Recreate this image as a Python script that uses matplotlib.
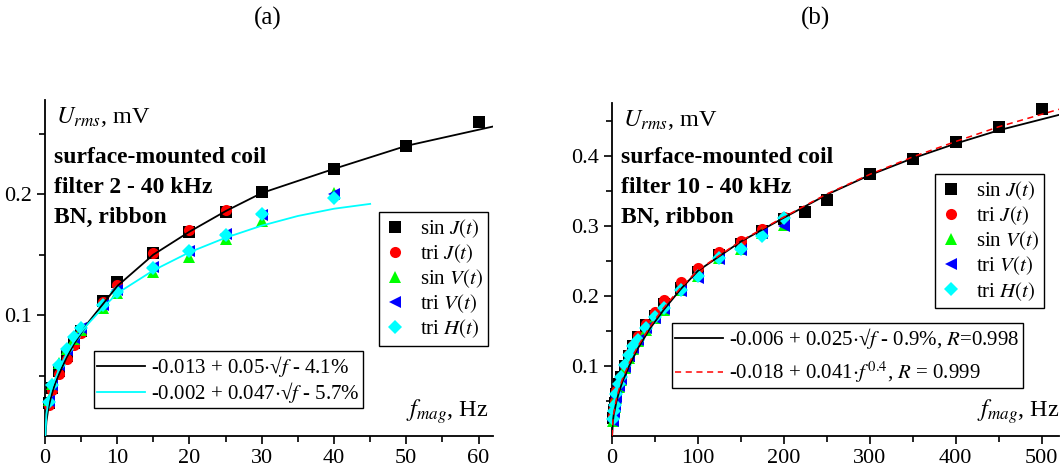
import matplotlib.pyplot as plt

plt.rcParams['font.family'] = ['Liberation Serif', 'DejaVu Serif']
plt.rcParams['mathtext.fontset'] = 'stix'

# ---- painel (a): filtro 2 - 40 kHz ----
fa_sinJ = [0.5, 1, 2, 3, 4, 5, 8, 10, 15, 20, 25, 30, 40, 50, 60]
ua_sinJ = [0.027, 0.040, 0.054, 0.066, 0.077, 0.087, 0.112, 0.127, 0.151, 0.169, 0.185, 0.202, 0.221, 0.240, 0.260]
fa_triJ = [0.5, 1, 2, 3, 4, 5, 8, 10, 15, 20, 25]
ua_triJ = [0.026, 0.038, 0.051, 0.064, 0.075, 0.085, 0.111, 0.125, 0.151, 0.170, 0.187]
fa_V = [0.5, 1, 2, 3, 4, 5, 8, 10, 15, 20, 25, 30, 40]
ua_sinV = [0.030, 0.043, 0.060, 0.072, 0.080, 0.088, 0.106, 0.118, 0.136, 0.148, 0.163, 0.178, 0.201]
ua_triV = [0.029, 0.042, 0.059, 0.071, 0.081, 0.089, 0.108, 0.121, 0.140, 0.153, 0.167, 0.183, 0.200]
ua_triH = [0.028, 0.042, 0.059, 0.072, 0.082, 0.089, 0.108, 0.119, 0.139, 0.153, 0.166, 0.184, 0.197]

# curvas de ajuste
fa_fit1 = [0.07, 0.2, 0.5, 1, 1.5, 2, 3, 4, 5, 6, 8, 10, 15, 20, 25, 30, 40, 50, 62]
ua_fit1 = [0.0, 0.012, 0.024, 0.036, 0.045, 0.052, 0.065, 0.076, 0.085, 0.094, 0.109, 0.124, 0.150, 0.169, 0.186, 0.201, 0.221, 0.240, 0.256]
fa_fit2 = [0.05, 0.2, 0.5, 1, 2, 3, 4, 5, 6, 8, 10, 15, 20, 25, 30, 35, 40, 45]
ua_fit2 = [0.0, 0.018, 0.030, 0.041, 0.056, 0.068, 0.078, 0.086, 0.093, 0.106, 0.118, 0.137, 0.152, 0.164, 0.174, 0.182, 0.188, 0.192]

# ---- painel (b): filtro 10 - 40 kHz ----
fb_sinJ = [1, 2, 3, 5, 8, 10, 15, 20, 25, 30, 40, 50, 60, 80, 100, 125, 150, 175, 200, 225, 250, 300, 350, 400, 450, 500]
ub_sinJ = [0.025, 0.037, 0.047, 0.060, 0.075, 0.085, 0.100, 0.115, 0.128, 0.142, 0.158, 0.172, 0.188, 0.212, 0.235, 0.258, 0.275, 0.293, 0.310,
           0.320, 0.337, 0.374, 0.396, 0.420, 0.442, 0.467]
fb = [1, 2, 3, 5, 8, 10, 15, 20, 25, 30, 40, 50, 60, 80, 100, 125, 150, 175, 200]
ub_triJ = [0.028, 0.040, 0.050, 0.064, 0.072, 0.085, 0.100, 0.117, 0.130, 0.143, 0.160, 0.177, 0.194, 0.220, 0.240, 0.263, 0.279, 0.296, 0.313]
ub_sinV = [0.022, 0.033, 0.042, 0.055, 0.070, 0.080, 0.097, 0.112, 0.124, 0.136, 0.152, 0.168, 0.180, 0.208, 0.228, 0.255, 0.267, 0.290, 0.301]
ub_triV = [0.022, 0.034, 0.043, 0.056, 0.071, 0.081, 0.099, 0.114, 0.126, 0.137, 0.154, 0.168, 0.181, 0.207, 0.226, 0.253, 0.266, 0.290, 0.300]
ub_triH = [0.024, 0.036, 0.045, 0.060, 0.075, 0.085, 0.101, 0.116, 0.128, 0.137, 0.154, 0.170, 0.183, 0.209, 0.229, 0.254, 0.268, 0.286, 0.311]

fb_fit = [0.2, 1, 2, 3, 5, 8, 12, 20, 30, 45, 60, 80, 100, 150, 200, 250, 300, 350, 400, 450, 520]
ub_fit1 = [0.0, 0.020, 0.030, 0.036, 0.048, 0.062, 0.077, 0.100, 0.125, 0.155, 0.180, 0.210, 0.236, 0.278, 0.312, 0.345, 0.373, 0.397, 0.418, 0.437, 0.459]
ub_fit2 = [0.0, 0.021, 0.032, 0.039, 0.052, 0.066, 0.081, 0.104, 0.128, 0.158, 0.183, 0.212, 0.237, 0.279, 0.313, 0.346, 0.374, 0.399, 0.421, 0.442, 0.467]

serie_labels = ['sin $\\mathit{J(t)}$', 'tri $\\mathit{J(t)}$', 'sin $\\mathit{V(t)}$',
                'tri $\\mathit{V(t)}$', 'tri $\\mathit{H(t)}$']
estilos = [('s', 'black'), ('o', 'red'), ('^', '#00ff00'), ('<', 'blue'), ('D', 'cyan')]

fig = plt.figure(figsize=(10.63, 4.72), dpi=100)
ax1 = fig.add_axes([0.0423, 0.0763, 0.4215, 0.712])
ax2 = fig.add_axes([0.5757, 0.0763, 0.4205, 0.7055])


def pontos(ax, dados):
    handles = []
    for (f, u), (m, c), lab in zip(dados, estilos, serie_labels):
        ms = 7 if m == 'D' else 8
        h, = ax.plot(f, u, linestyle='none', marker=m, color=c, markersize=ms,
                     markeredgewidth=0, label=lab, clip_on=False, zorder=3)
        handles.append(h)
    return handles


def estilo_eixos(ax):
    for s in ['top', 'right']:
        ax.spines[s].set_visible(False)
    for s in ['left', 'bottom']:
        ax.spines[s].set_linewidth(1.3)
    ax.tick_params(which='major', direction='out', length=6, width=1.2, labelsize=16)
    ax.tick_params(which='minor', direction='out', length=4, width=1.2)


def legenda_series(ax, handles, anchor):
    leg = ax.legend(handles=handles, loc='upper right', bbox_to_anchor=anchor, borderaxespad=0,
                    fontsize=15, fancybox=False, edgecolor='black', framealpha=1,
                    handletextpad=0.7, labelspacing=0.12, borderpad=0.25, handlelength=1.0)
    leg.get_frame().set_linewidth(1.0)
    ax.add_artist(leg)


def legenda_ajuste(ax, handles, labels, anchor, espaco):
    leg = ax.legend(handles, labels, loc='lower left', bbox_to_anchor=anchor, borderaxespad=0,
                    fontsize=15, fancybox=False, edgecolor='black', framealpha=1,
                    handlelength=2.3, labelspacing=espaco, borderpad=0.15, handletextpad=0.3)
    leg.get_frame().set_linewidth(1.0)


# (a)
h1 = pontos(ax1, [(fa_sinJ, ua_sinJ), (fa_triJ, ua_triJ), (fa_V, ua_sinV), (fa_V, ua_triV), (fa_V, ua_triH)])
l1, = ax1.plot(fa_fit1, ua_fit1, color='black', lw=1.3, zorder=4)
l2, = ax1.plot(fa_fit2, ua_fit2, color='cyan', lw=1.3, zorder=4)
ax1.set_xlim(0, 62)
ax1.set_ylim(0, 0.278)
ax1.set_xticks([0, 10, 20, 30, 40, 50, 60])
ax1.set_xticks([5, 15, 25, 35, 45, 55], minor=True)
ax1.set_yticks([0.1, 0.2])
ax1.set_yticks([0.05, 0.15, 0.25], minor=True)
estilo_eixos(ax1)

legenda_series(ax1, h1, (0.989, 0.667))
legenda_ajuste(ax1, [l1, l2], ['-0.013 + 0.05$\\cdot$\u221a$f$ - 4.1%', '-0.002 + 0.047$\\cdot$\u221a$f$ - 5.7%'],
               (0.109, 0.083), 0.05)

ax1.text(0.025, 0.985, '$U_{rms}$, mV', transform=ax1.transAxes, fontsize=17.5, va='top')
ax1.text(0.99, 0.03, '$f_{mag}$, Hz', transform=ax1.transAxes, fontsize=17.5, ha='right', va='bottom')
ax1.text(0.02, 0.86, 'surface-mounted coil\nfilter 2 - 40 kHz\nBN, ribbon', transform=ax1.transAxes,
         fontsize=17, fontweight='bold', va='top', linespacing=1.55)
fig.text(0.252, 0.96, '(a)', fontsize=18, ha='center', va='center')

# (b)
h2 = pontos(ax2, [(fb_sinJ, ub_sinJ), (fb, ub_triJ), (fb, ub_sinV), (fb, ub_triV), (fb, ub_triH)])
m1, = ax2.plot(fb_fit, ub_fit1, color='black', lw=1.3, zorder=4)
m2, = ax2.plot(fb_fit, ub_fit2, color='red', lw=1.1, ls=(0, (4, 3)), zorder=4)
ax2.set_xlim(0, 520)
ax2.set_ylim(0, 0.476)
ax2.set_xticks([0, 100, 200, 300, 400, 500])
ax2.set_xticks([50, 150, 250, 350, 450], minor=True)
ax2.set_yticks([0.1, 0.2, 0.3, 0.4])
ax2.set_yticks([0.05, 0.15, 0.25, 0.35, 0.45], minor=True)
estilo_eixos(ax2)

legenda_series(ax2, h2, (0.966, 0.787))
legenda_ajuste(ax2, [m1, m2], ['-0.006 + 0.025$\\cdot$\u221a$f$ - 0.9%, $R$=0.998',
                               '-0.018 + 0.041$\\cdot\\mathit{f}^{\\,\\mathit{0.4}}$, $R$ = 0.999'],
               (0.134, 0.144), 0.4)

ax2.text(0.025, 0.985, '$U_{rms}$, mV', transform=ax2.transAxes, fontsize=17.5, va='top')
ax2.text(1.0, 0.03, '$f_{mag}$, Hz', transform=ax2.transAxes, fontsize=17.5, ha='right', va='bottom')
ax2.text(0.02, 0.868, 'surface-mounted coil\nfilter 10 - 40 kHz\nBN, ribbon', transform=ax2.transAxes,
         fontsize=17, fontweight='bold', va='top', linespacing=1.55)
fig.text(0.767, 0.96, '(b)', fontsize=18, ha='center', va='center')

plt.savefig('out.png', dpi=100)
